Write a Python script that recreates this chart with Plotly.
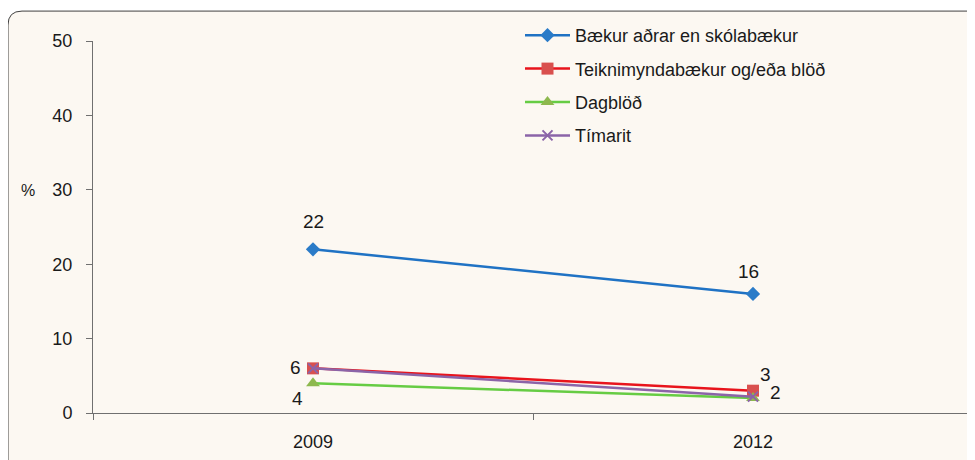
import plotly.graph_objects as go

years = ["2009", "2012"]
series_names = ["Bækur aðrar en skólabækur", "Teiknimyndabækur og/eða blöð", "Dagblöð", "Tímarit"]
baekur = [22, 16]
teikni = [6, 3]
dagblod = [4, 2]
timarit = [6, 2.2]
baekur_labels = ["22", "16"]
teikni_labels = ["6", "3"]
dagblod_labels = ["4", "2"]
timarit_labels = ["", ""]
y_ticks = [0, 10, 20, 30, 40, 50]

FONT = "Liberation Sans, Arial, sans-serif"
TXT = "#1a1a1a"

fig = go.Figure()

# (values, labels, label pixel offsets, line colour, marker colour, symbol, size)
styles = [
    (baekur, baekur_labels, [(0, 28), (-5, 22)], "#1F72C4", "#2A7BC8", "diamond", 11),
    (teikni, teikni_labels, [(-18, 1), (12, 16)], "#E8141C", "#D9504E", "square", 12),
    (dagblod, dagblod_labels, [(-16, -15), (22, 6)], "#66CC44", "#8DB84E", "triangle-up", 12),
    (timarit, timarit_labels, [(0, 0), (0, 0)], "#8B64A8", "#8B64A8", "x-thin-open", 10),
]

for i, (vals, labels, offs, lc, mc, sym, ms) in enumerate(styles):
    marker = dict(symbol=sym, size=ms, color=mc)
    if sym == "x-thin-open":
        marker["line"] = dict(color=mc, width=2)
    fig.add_trace(go.Scatter(
        x=years, y=vals, name=series_names[i], mode="lines+markers",
        line=dict(color=lc, width=2.5), marker=marker,
        legendgroup=str(i), cliponaxis=False,
    ))
    for j, (yv, lab, (dx, dy)) in enumerate(zip(vals, labels, offs)):
        if lab:
            # category axis: annotation x is the category index
            fig.add_annotation(x=j, y=yv, xref="x", yref="y", text=lab, showarrow=False,
                               xshift=dx, yshift=dy,
                               font=dict(family=FONT, size=19, color=TXT))

# rounded frame (paper coords relative to plot area)
x0, y0 = -85 / 880, 403 / 373
rx, ry = 14 / 880, 14 / 373
path = (f"M {x0},-0.3 L {x0},{y0 - ry} Q {x0},{y0} {x0 + rx},{y0} "
        f"L 1.2,{y0} L 1.2,-0.3 Z")
fig.add_shape(type="path", xref="paper", yref="paper", path=path,
              fillcolor="#FCF8F2", line=dict(color="#404040", width=1), layer="below")

fig.add_annotation(text="%", xref="paper", yref="paper", x=(20 - 85) / 880, y=(405 - 182) / 373,
                   xanchor="center", yanchor="middle",
                   showarrow=False, font=dict(family=FONT, size=16, color=TXT))

fig.update_layout(
    width=975, height=460,
    margin=dict(l=85, r=10, t=32, b=55),
    paper_bgcolor="white", plot_bgcolor="rgba(0,0,0,0)",
    font=dict(family=FONT, size=18, color=TXT),
    showlegend=True,
    legend=dict(x=(512 - 85) / 880, y=(405 - 9) / 373, xanchor="left", yanchor="top",
                bgcolor="rgba(0,0,0,0)", traceorder="grouped", tracegroupgap=7,
                itemwidth=45,
                font=dict(family=FONT, size=18, color=TXT)),
    xaxis=dict(type="category", range=[-0.5, 1.5], tickson="boundaries", ticks="outside",
               ticklen=6, tickcolor="#707070", showline=True, linecolor="#707070", linewidth=1,
               showgrid=False, zeroline=False, ticklabelstandoff=12,
               tickfont=dict(family=FONT, size=18, color=TXT)),
    yaxis=dict(range=[0, 50], tickvals=y_ticks, ticks="outside", ticklen=6, tickcolor="#707070",
               showline=True, linecolor="#707070", linewidth=1, showgrid=False, zeroline=False,
               ticklabelstandoff=10,
               tickfont=dict(family=FONT, size=18, color=TXT)),
)

fig.write_html("out.html")
